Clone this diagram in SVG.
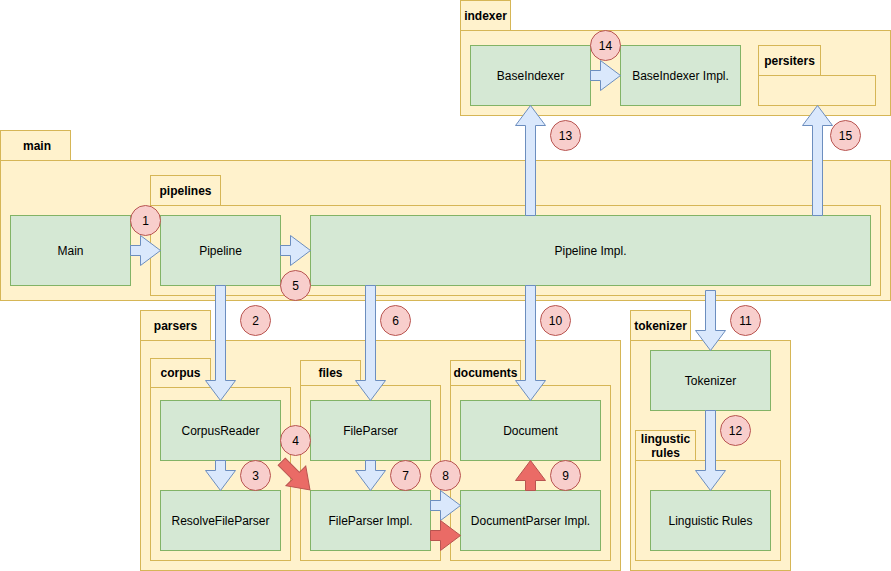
<svg xmlns="http://www.w3.org/2000/svg" width="891" height="571" viewBox="0 0 891 571">
<style>
.pkg{fill:#fff2cc;stroke:#d6b656;stroke-width:1}
.node{fill:#d5e8d4;stroke:#82b366;stroke-width:1}
.blue{fill:#dae8fc;stroke:#6c8ebf;stroke-width:1}
.red{fill:#ea6b66;stroke:#b85450;stroke-width:1}
.num{fill:#f8cecc;stroke:#b85450;stroke-width:1}
.t{font-family:"Liberation Sans",Arial,sans-serif;font-size:12px;fill:#000;text-anchor:middle;dominant-baseline:central}
.b{font-weight:bold}
</style>
<rect width="891" height="571" fill="#ffffff"/>
<g id="pkg-indexer">
<rect class="pkg" x="460.5" y="0.5" width="50" height="30"/>
<rect class="pkg" x="460.5" y="30.5" width="430" height="85"/>
<text class="t b" x="485.5" y="15.5">indexer</text>
</g>
<g id="pkg-persiters">
<rect class="pkg" x="758.5" y="45.5" width="62" height="30"/>
<rect class="pkg" x="758.5" y="75.5" width="117" height="30"/>
<text class="t b" x="789.5" y="60.5">persiters</text>
</g>
<g id="pkg-main">
<rect class="pkg" x="0.5" y="130.5" width="70" height="30"/>
<rect class="pkg" x="0.5" y="160.5" width="890" height="140"/>
<text class="t b" x="37" y="145.5">main</text>
</g>
<g id="pkg-pipelines">
<rect class="pkg" x="150.5" y="175.5" width="70" height="30"/>
<rect class="pkg" x="150.5" y="205.5" width="730" height="90"/>
<text class="t b" x="185.5" y="190.5">pipelines</text>
</g>
<g id="pkg-parsers">
<rect class="pkg" x="140.5" y="310.5" width="70" height="30"/>
<rect class="pkg" x="140.5" y="340.5" width="480" height="230"/>
<text class="t b" x="175.5" y="325.5">parsers</text>
</g>
<g id="pkg-corpus">
<rect class="pkg" x="150.5" y="358.5" width="60" height="30"/>
<rect class="pkg" x="150.5" y="387.5" width="140" height="173"/>
<text class="t b" x="180.5" y="372.5">corpus</text>
</g>
<g id="pkg-files">
<rect class="pkg" x="300.5" y="360.5" width="60" height="25"/>
<rect class="pkg" x="300.5" y="385.5" width="140" height="175"/>
<text class="t b" x="330.5" y="372.5">files</text>
</g>
<g id="pkg-documents">
<rect class="pkg" x="450.5" y="360.5" width="70" height="25"/>
<rect class="pkg" x="450.5" y="385.5" width="160" height="175"/>
<text class="t b" x="485.5" y="372.5">documents</text>
</g>
<g id="pkg-tokenizer">
<rect class="pkg" x="630.5" y="310.5" width="60" height="30"/>
<rect class="pkg" x="630.5" y="340.5" width="160" height="230"/>
<text class="t b" x="660.5" y="325.5">tokenizer</text>
</g>
<g id="pkg-lingustic">
<rect class="pkg" x="635.5" y="430.5" width="60" height="30"/>
<rect class="pkg" x="635.5" y="460.5" width="145" height="100"/>
<text class="t b" x="665.5" y="438.5">lingustic</text>
<text class="t b" x="665.5" y="452.5">rules</text>
</g>
<g id="node-main"><rect class="node" x="10.5" y="215.5" width="120" height="70"/><text class="t" x="70.5" y="250.5">Main</text></g>
<g id="node-pipeline"><rect class="node" x="160.5" y="215.5" width="120" height="70"/><text class="t" x="220.5" y="250.5">Pipeline</text></g>
<g id="node-pipelineimpl"><rect class="node" x="310.5" y="215.5" width="560" height="70"/><text class="t" x="590.5" y="250.5">Pipeline Impl.</text></g>
<g id="node-baseindexer"><rect class="node" x="470.5" y="45.5" width="120" height="60"/><text class="t" x="530.5" y="75.5">BaseIndexer</text></g>
<g id="node-baseindexerimpl"><rect class="node" x="620.5" y="45.5" width="120" height="60"/><text class="t" x="680.5" y="75.5">BaseIndexer Impl.</text></g>
<g id="node-corpusreader"><rect class="node" x="160.5" y="400.5" width="120" height="60"/><text class="t" x="220.5" y="430.5">CorpusReader</text></g>
<g id="node-resolvefileparser"><rect class="node" x="160.5" y="490.5" width="120" height="60"/><text class="t" x="220.5" y="520.5">ResolveFileParser</text></g>
<g id="node-fileparser"><rect class="node" x="310.5" y="400.5" width="120" height="60"/><text class="t" x="370.5" y="430.5">FileParser</text></g>
<g id="node-fileparserimpl"><rect class="node" x="310.5" y="490.5" width="120" height="60"/><text class="t" x="370.5" y="520.5">FileParser Impl.</text></g>
<g id="node-document"><rect class="node" x="460.5" y="400.5" width="140" height="60"/><text class="t" x="530.5" y="430.5">Document</text></g>
<g id="node-documentparserimpl"><rect class="node" x="460.5" y="490.5" width="140" height="60"/><text class="t" x="530.5" y="520.5">DocumentParser Impl.</text></g>
<g id="node-tokenizer"><rect class="node" x="650.5" y="350.5" width="120" height="60"/><text class="t" x="710.5" y="380.5">Tokenizer</text></g>
<g id="node-linguisticrules"><rect class="node" x="650.5" y="490.5" width="120" height="60"/><text class="t" x="710.5" y="520.5">Linguistic Rules</text></g>
<g id="connectors">
<polygon class="blue" points="130.5,245.5 140.5,245.5 140.5,235.5 160.5,250.5 140.5,265.5 140.5,255.5 130.5,255.5"/>
<polygon class="blue" points="280.5,245.5 290.5,245.5 290.5,235.5 310.5,250.5 290.5,265.5 290.5,255.5 280.5,255.5"/>
<polygon class="blue" points="590.5,70.5 600.5,70.5 600.5,60.5 620.5,75.5 600.5,90.5 600.5,80.5 590.5,80.5"/>
<polygon class="blue" points="430.5,500.5 440.5,500.5 440.5,490.5 460.5,505.5 440.5,520.5 440.5,510.5 430.5,510.5"/>
<polygon class="red" points="430.5,530.5 440.5,530.5 440.5,520.5 460.5,535.5 440.5,550.5 440.5,540.5 430.5,540.5"/>
<polygon class="blue" points="215.5,285.5 225.5,285.5 225.5,380.5 235.5,380.5 220.5,400.5 205.5,380.5 215.5,380.5"/>
<polygon class="blue" points="215.5,460.5 225.5,460.5 225.5,470.5 235.5,470.5 220.5,490.5 205.5,470.5 215.5,470.5"/>
<polygon class="blue" points="365.5,285.5 375.5,285.5 375.5,380.5 385.5,380.5 370.5,400.5 355.5,380.5 365.5,380.5"/>
<polygon class="blue" points="365.5,460.5 375.5,460.5 375.5,470.5 385.5,470.5 370.5,490.5 355.5,470.5 365.5,470.5"/>
<polygon class="blue" points="525.5,285.5 535.5,285.5 535.5,380.5 545.5,380.5 530.5,400.5 515.5,380.5 525.5,380.5"/>
<polygon class="blue" points="705.5,290.5 715.5,290.5 715.5,330.5 725.5,330.5 710.5,350.5 695.5,330.5 705.5,330.5"/>
<polygon class="blue" points="705.5,410.5 715.5,410.5 715.5,470.5 725.5,470.5 710.5,490.5 695.5,470.5 705.5,470.5"/>
<polygon class="blue" points="525.5,215.5 535.5,215.5 535.5,125.5 545.5,125.5 530.5,105.5 515.5,125.5 525.5,125.5"/>
<polygon class="blue" points="812.5,215.5 822.5,215.5 822.5,125.5 832.5,125.5 817.5,105.5 802.5,125.5 812.5,125.5"/>
<polygon class="red" points="525.5,490.5 535.5,490.5 535.5,480.5 545.5,480.5 530.5,460.5 515.5,480.5 525.5,480.5"/>
<polygon class="red" transform="translate(281.7,461.7) rotate(45)" points="0,-5 20,-5 20,-14 40,0 20,14 20,5 0,5"/>
</g>
<g id="badges">
<circle class="num" cx="145.5" cy="220.5" r="15"/><text class="t" x="145.5" y="220.5">1</text>
<circle class="num" cx="255.5" cy="320.5" r="15"/><text class="t" x="255.5" y="320.5">2</text>
<circle class="num" cx="255.5" cy="475.5" r="15"/><text class="t" x="255.5" y="475.5">3</text>
<circle class="num" cx="295.5" cy="440.5" r="15"/><text class="t" x="295.5" y="440.5">4</text>
<circle class="num" cx="295.5" cy="285.5" r="15"/><text class="t" x="295.5" y="285.5">5</text>
<circle class="num" cx="395.5" cy="320.5" r="15"/><text class="t" x="395.5" y="320.5">6</text>
<circle class="num" cx="405.5" cy="475.5" r="15"/><text class="t" x="405.5" y="475.5">7</text>
<circle class="num" cx="445.5" cy="475.5" r="15"/><text class="t" x="445.5" y="475.5">8</text>
<circle class="num" cx="565.5" cy="475.5" r="15"/><text class="t" x="565.5" y="475.5">9</text>
<circle class="num" cx="555.5" cy="320.5" r="15"/><text class="t" x="555.5" y="320.5">10</text>
<circle class="num" cx="745.5" cy="320.5" r="15"/><text class="t" x="745.5" y="320.5">11</text>
<circle class="num" cx="735.5" cy="430.5" r="15"/><text class="t" x="735.5" y="430.5">12</text>
<circle class="num" cx="565.5" cy="135.5" r="15"/><text class="t" x="565.5" y="135.5">13</text>
<circle class="num" cx="605.5" cy="45.5" r="15"/><text class="t" x="605.5" y="45.5">14</text>
<circle class="num" cx="845.5" cy="135.5" r="15"/><text class="t" x="845.5" y="135.5">15</text>
</g>
</svg>
